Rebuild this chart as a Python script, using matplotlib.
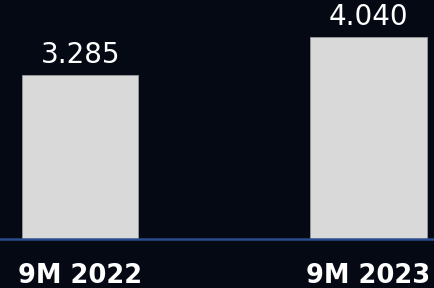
import matplotlib
matplotlib.use('Agg')
import matplotlib.pyplot as plt

periods = ['9M 2022', '9M 2023']
values = [3.285, 4.040]
value_labels = ['3.285', '4.040']

bg = '#050914'
fig = plt.figure(figsize=(4.34, 2.88), dpi=100, facecolor=bg)
ax = fig.add_axes([0, 0.170, 1, 0.830])
ax.set_facecolor(bg)

x = range(len(periods))
bars = ax.bar(x, values, width=0.403, color='#d9d9d9', edgecolor='#9a9a9a', linewidth=0.6, zorder=2)

for b, lab in zip(bars, value_labels):
    ax.annotate(lab, (b.get_x() + b.get_width() / 2, b.get_height()),
                xytext=(0, 4.5), textcoords='offset points', ha='center', va='bottom',
                color='white', fontsize=20, family='DejaVu Sans')

ax.set_xlim(-0.278, 1.227)
ax.set_ylim(0, 4.79)
ax.set_xticks(list(x))
ax.set_xticklabels(periods, color='white', fontsize=18.5, family='DejaVu Sans', fontweight='bold')
ax.tick_params(axis='x', length=0, pad=17)
ax.set_yticks([])
for s in ['top', 'left', 'right']:
    ax.spines[s].set_visible(False)
ax.spines['bottom'].set_color('#2b4c8c')
ax.spines['bottom'].set_linewidth(1.8)

fig.savefig('out.png', dpi=100, facecolor=bg)
